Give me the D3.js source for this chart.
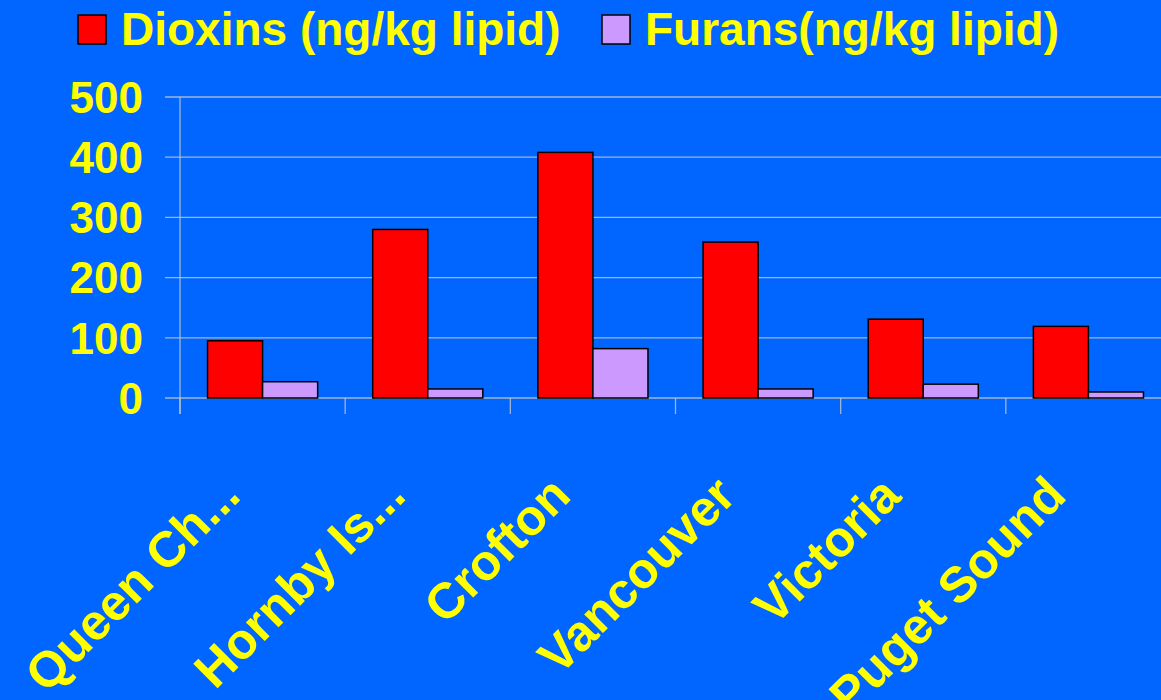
<!DOCTYPE html>
<html>
<head>
<meta charset="utf-8">
<script src="https://cdn.jsdelivr.net/npm/d3@7"></script>
<style>
  body { margin: 0; background: #0066ff; }
  svg { display: block; }
  text { font-family: "Liberation Sans", Arial, sans-serif; font-weight: bold; fill: #ffff00; }
</style>
</head>
<body>
<script>
var categories = ["Queen Ch...", "Hornby Is...", "Crofton", "Vancouver", "Victoria", "Puget Sound"];
var dioxins = [95, 280, 408, 259, 131, 119];
var furans = [27, 15, 82, 15, 23, 10];
var seriesNames = ["Dioxins (ng/kg lipid)", "Furans(ng/kg lipid)"];
var seriesColors = ["#ff0000", "#cc99ff"];
var yTicks = [0, 100, 200, 300, 400, 500];

var W = 1161, H = 700;

var svg = d3.select("body").append("svg")
    .attr("width", W)
    .attr("height", H);

svg.append("rect")
    .attr("width", W).attr("height", H)
    .attr("fill", "#0066ff");

var x = d3.scaleBand()
    .domain(categories)
    .range([180, 1171])
    .paddingInner(0)
    .paddingOuter(0);

var y = d3.scaleLinear()
    .domain([0, 500])
    .range([398, 97]);

var sub = d3.scaleBand()
    .domain([0, 1])
    .range([x.bandwidth() / 6, x.bandwidth() * 5 / 6]);

var gridColor = "#c8c8c8";

// gridlines (extend left of the axis like tick marks)
svg.append("g")
    .selectAll("line")
    .data(yTicks)
    .enter()
    .append("line")
        .attr("x1", 165)
        .attr("x2", W)
        .attr("y1", function(d) { return y(d); })
        .attr("y2", function(d) { return y(d); })
        .attr("stroke", gridColor)
        .attr("stroke-opacity", 0.8)
        .attr("stroke-width", 1.3);

// y axis line
svg.append("line")
    .attr("x1", 180).attr("x2", 180)
    .attr("y1", y(500)).attr("y2", y(0) + 16)
    .attr("stroke", gridColor)
    .attr("stroke-opacity", 0.8)
    .attr("stroke-width", 1.3);

// category tick marks
svg.append("g")
    .selectAll("line")
    .data(categories)
    .enter()
    .append("line")
        .attr("x1", function(d) { return x(d); })
        .attr("x2", function(d) { return x(d); })
        .attr("y1", y(0))
        .attr("y2", y(0) + 16)
        .attr("stroke", gridColor)
        .attr("stroke-opacity", 0.8)
        .attr("stroke-width", 1.3);

// y labels
svg.append("g")
    .selectAll("text")
    .data(yTicks)
    .enter()
    .append("text")
        .attr("x", 143)
        .attr("y", function(d) { return y(d); })
        .attr("dy", "0.36em")
        .attr("text-anchor", "end")
        .attr("font-size", 44)
        .text(function(d) { return d; });

// bars
var series = [dioxins, furans];
var groups = svg.append("g")
    .selectAll("g")
    .data(categories)
    .enter()
    .append("g")
        .attr("transform", function(d) { return "translate(" + x(d) + ",0)"; });

groups.selectAll("rect")
    .data(function(d, i) { return series.map(function(s, k) { return { k: k, v: s[i] }; }); })
    .enter()
    .append("rect")
        .attr("x", function(d) { return sub(d.k); })
        .attr("width", sub.bandwidth())
        .attr("y", function(d) { return y(d.v); })
        .attr("height", function(d) { return y(0) - y(d.v); })
        .attr("fill", function(d) { return seriesColors[d.k]; })
        .attr("stroke", "#000")
        .attr("stroke-width", 1.5);

// category labels, rotated
svg.append("g")
    .selectAll("text")
    .data(categories)
    .enter()
    .append("text")
        .attr("text-anchor", "end")
        .attr("font-size", 50)
        .attr("transform", function(d) {
            return "translate(" + (x(d) + x.bandwidth() / 2 - 20) + "," + 498 + ") rotate(-45)";
        })
        .text(function(d) { return d; });

// legend
var legendX = [78, 602];
var legend = svg.append("g")
    .selectAll("g")
    .data(seriesNames)
    .enter()
    .append("g")
        .attr("transform", function(d, i) { return "translate(" + legendX[i] + ",15)"; });

legend.append("rect")
    .attr("width", 28)
    .attr("height", 29)
    .attr("fill", function(d, i) { return seriesColors[i]; })
    .attr("stroke", "#000")
    .attr("stroke-width", 1.5);

legend.append("text")
    .attr("x", 43)
    .attr("y", 30)
    .attr("font-size", 46)
    .text(function(d) { return d; });
</script>
</body>
</html>
